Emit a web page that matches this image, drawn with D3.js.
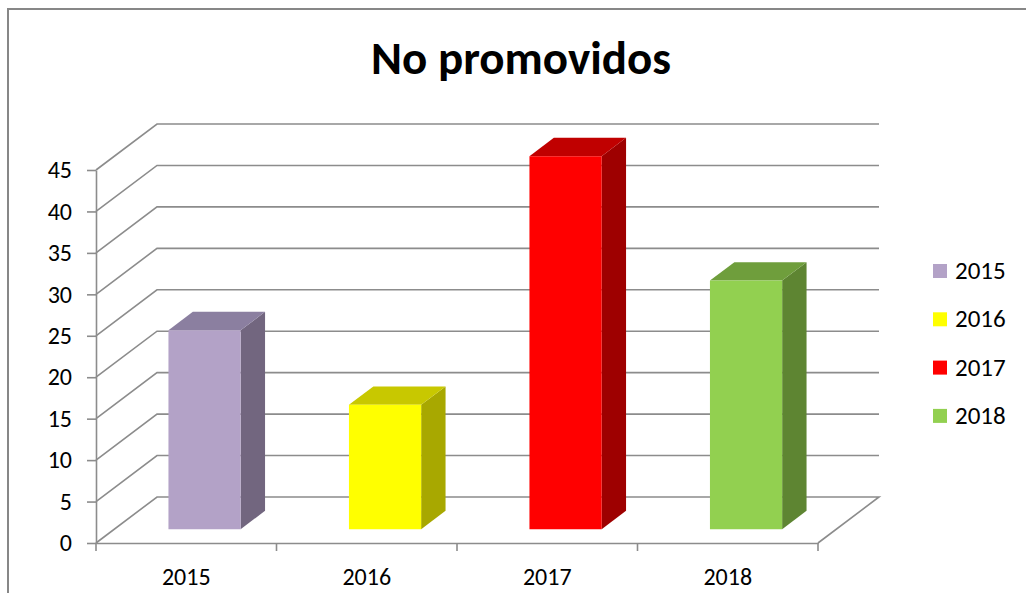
<!DOCTYPE html>
<html>
<head>
<meta charset="utf-8">
<script src="https://cdn.jsdelivr.net/npm/d3@7"></script>
<style>
  body { margin: 0; background: #fff; }
  svg { display: block; font-family: Carlito, Lato, "Open Sans", sans-serif; }
</style>
</head>
<body>
<div id="chart"></div>
<script>
// data
const categories = ["2015", "2016", "2017", "2018"];
const values = [24, 15, 45, 30];
const yTicks = [0, 5, 10, 15, 20, 25, 30, 35, 40, 45];

// face colours: front, top, side
const frontColors = ["#b3a2c7", "#ffff00", "#ff0000", "#92d050"];
const topColors = ["#8b7fa0", "#c8c800", "#c00000", "#6f9e3c"];
const sideColors = ["#72667f", "#a8a800", "#9e0000", "#5e8532"];

const width = 1026, height = 593;
const depthX = 61, depthY = -46; // back wall offset

const svg = d3.select("#chart").append("svg")
    .attr("width", width)
    .attr("height", height);

// outer frame (only top and left edges are in view)
svg.append("path")
    .attr("d", "M8," + height + " V9 H" + width)
    .attr("fill", "none")
    .attr("stroke", "#878787")
    .attr("stroke-width", 2);

const x = d3.scaleBand()
    .domain(categories)
    .range([96, 818])
    .padding(0);

const y = d3.scaleLinear()
    .domain([0, 45])
    .range([543, 170]);

const xLeft = x.range()[0], xRight = x.range()[1];

// project a point on the front plane back by depth z (0..1)
function proj(px, v, z) {
    return [px + z * depthX, y(v) + z * depthY];
}

const grid = svg.append("g")
    .attr("stroke", "#8c8c8c")
    .attr("stroke-width", 1.6)
    .attr("fill", "none");

// floor
grid.append("path")
    .attr("d", d3.line()([proj(xLeft, 0, 0), proj(xLeft, 0, 1), proj(xRight, 0, 1), proj(xRight, 0, 0)]));

// back wall and side wall gridlines
yTicks.filter(d => d > 0).forEach(v => {
    grid.append("path")
        .attr("d", d3.line()([proj(xLeft, v, 0), proj(xLeft, v, 1), proj(xRight, v, 1)]));
});

// bars
const barFrac = 0.4, z0 = 0.3, z1 = 0.7;
const bars = svg.append("g");
categories.forEach((c, i) => {
    const w = x.bandwidth() * barFrac;
    const x0 = x(c) + (x.bandwidth() - w) / 2;
    const x1 = x0 + w;
    const v = values[i];
    const g = bars.append("g");
    g.append("path")
        .attr("d", d3.line()([proj(x1, 0, z0), proj(x1, v, z0), proj(x1, v, z1), proj(x1, 0, z1)]) + "Z")
        .attr("fill", sideColors[i]);
    g.append("path")
        .attr("d", d3.line()([proj(x0, v, z0), proj(x1, v, z0), proj(x1, v, z1), proj(x0, v, z1)]) + "Z")
        .attr("fill", topColors[i]);
    g.append("path")
        .attr("d", d3.line()([proj(x0, 0, z0), proj(x1, 0, z0), proj(x1, v, z0), proj(x0, v, z0)]) + "Z")
        .attr("fill", frontColors[i]);
});

// y axis
const yAxis = svg.append("g")
    .attr("transform", "translate(" + xLeft + ",0)")
    .call(d3.axisLeft(y).tickValues(yTicks).tickSize(9).tickPadding(15).tickSizeOuter(0));
yAxis.select(".domain").attr("stroke", "#8c8c8c").attr("stroke-width", 1.6);
yAxis.selectAll(".tick line").attr("stroke", "#8c8c8c").attr("stroke-width", 1.6);
yAxis.selectAll(".tick text")
    .attr("fill", "#000")
    .attr("font-size", 24)
    .attr("font-family", "Carlito, Lato, sans-serif");

// x axis
const xAxis = svg.append("g")
    .attr("transform", "translate(0," + y(0) + ")")
    .call(d3.axisBottom(x).tickSize(0).tickPadding(25));
xAxis.select(".domain").attr("stroke", "#8c8c8c").attr("stroke-width", 1.6);
xAxis.selectAll(".tick text")
    .attr("fill", "#000")
    .attr("font-size", 24)
    .attr("font-family", "Carlito, Lato, sans-serif");
// category separators
const seps = categories.map(c => x(c)).concat([xRight]);
svg.append("g").selectAll("line")
    .data(seps)
    .join("line")
    .attr("x1", d => d).attr("x2", d => d)
    .attr("y1", y(0)).attr("y2", y(0) + 8)
    .attr("stroke", "#8c8c8c")
    .attr("stroke-width", 1.6);

// title
svg.append("text")
    .attr("x", 521)
    .attr("y", 74)
    .attr("text-anchor", "middle")
    .attr("font-size", 47)
    .attr("font-weight", "bold")
    .attr("fill", "#000")
    .text("No promovidos");

// legend
const legend = svg.append("g")
    .attr("transform", "translate(933,264)");
const items = legend.selectAll("g")
    .data(categories)
    .join("g")
    .attr("transform", (d, i) => "translate(0," + (i * 48.3) + ")");
items.append("rect")
    .attr("width", 14)
    .attr("height", 14)
    .attr("fill", (d, i) => frontColors[i]);
items.append("text")
    .attr("x", 22)
    .attr("y", 15)
    .attr("font-size", 25)
    .attr("fill", "#000")
    .text(d => d);
</script>
</body>
</html>
